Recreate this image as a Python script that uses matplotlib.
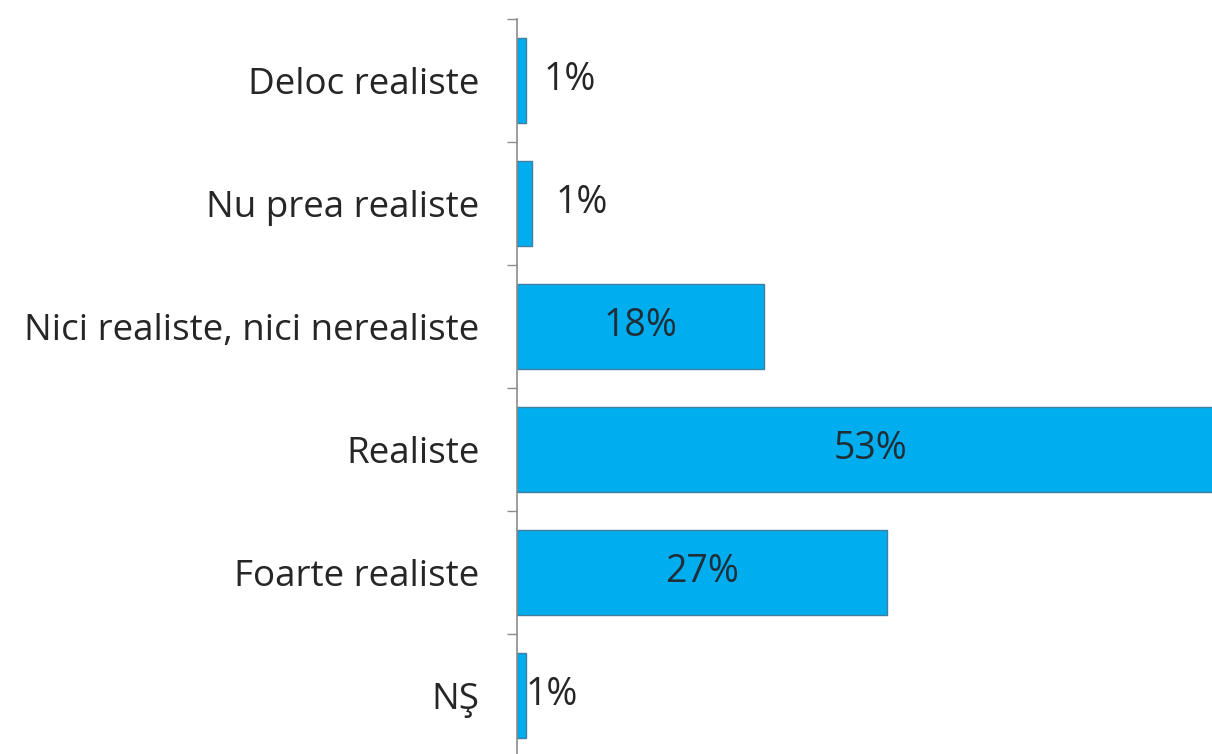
import numpy as np
import matplotlib
matplotlib.use('Agg')
import matplotlib.pyplot as plt

# %%
categories = ['Deloc realiste', 'Nu prea realiste', 'Nici realiste, nici nerealiste',
              'Realiste', 'Foarte realiste', 'NŞ']
values = [0.65, 1.1, 18, 53, 27, 0.65]
labels = ['1%', '1%', '18%', '53%', '27%', '1%']

plt.rcParams['font.family'] = ['Open Sans', 'DejaVu Sans']

W, H = 1212, 754
fig = plt.figure(figsize=(W / 100, H / 100), dpi=100)
# axis line at x=517 px, bar area runs a little past the right edge
ax = fig.add_axes([517 / W, (H - 757) / H, (1225 - 517) / W, (757 - 18.5) / H])

y = np.arange(len(categories))
ax.barh(y, values, height=0.69, color='#00aeef', edgecolor='#3f7f9f', linewidth=1.0)
ax.set_xlim(0, (1225 - 517) / 13.7)
ax.set_ylim(len(categories) - 0.5, -0.5)

ax.set_yticks(y)
ax.set_yticklabels(categories, fontsize=26.5, color='#262626')
ax.tick_params(axis='y', which='major', length=0, pad=27)
ax.set_yticks(np.arange(len(categories) + 1) - 0.5, minor=True)
ax.tick_params(axis='y', which='minor', length=7, color='#8c8c8c', width=1)
ax.set_xticks([])

for s in ['top', 'right', 'bottom']:
    ax.spines[s].set_visible(False)
ax.spines['left'].set_color('#8c8c8c')
ax.spines['left'].set_linewidth(1.2)

xmax = ax.get_xlim()[1]
offsets = [1.3, 1.7, 0, 0, 0, 0.0]
for i, (v, lab) in enumerate(zip(values, labels)):
    if v > 5:
        ax.text(min(v, xmax) / 2, i, lab, ha='center', va='center',
                fontsize=27, color='#1f2f3a')
    else:
        ax.text(v + offsets[i], i, lab, ha='left', va='center',
                fontsize=27, color='#262626')

fig.savefig('out.png', dpi=100)
